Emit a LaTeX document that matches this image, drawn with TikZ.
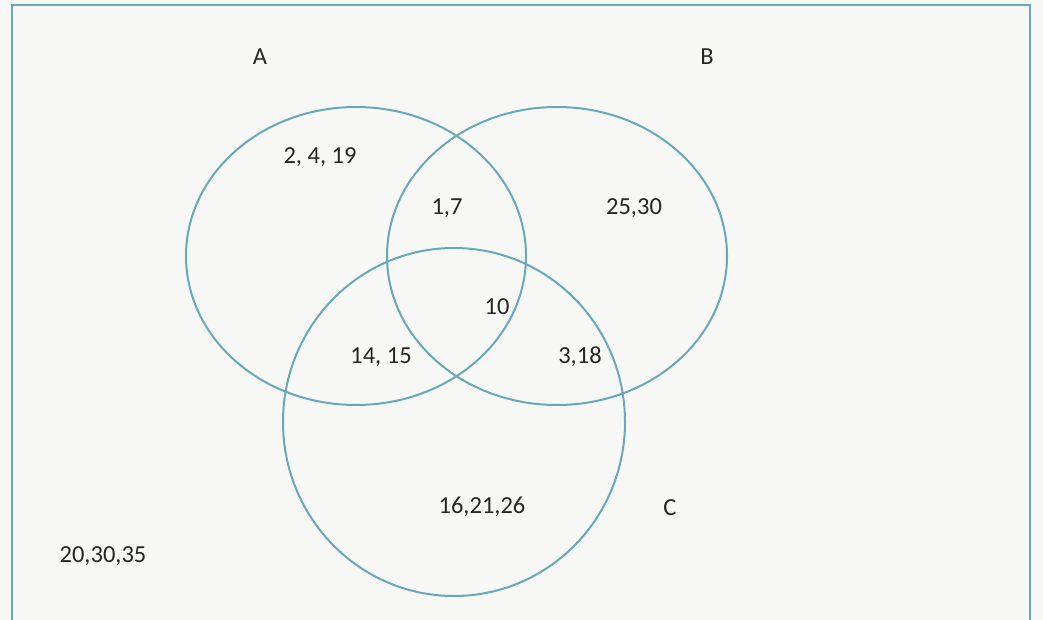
\documentclass[tikz,border=0pt]{standalone}
\usepackage{fontspec}
\setmainfont{Carlito}
\definecolor{venncol}{RGB}{104,168,186}
\definecolor{paper}{RGB}{247,247,245}
\tikzset{
	setline/.style={venncol, line width=2pt},
	lbl/.style={font=\fontsize{24.5}{24.5}\selectfont, text=black!85, inner sep=1pt}
}
\begin{document}
\begin{tikzpicture}[x=1pt, y=-1pt]
				\useasboundingbox[fill=paper] (0,0) rectangle (1043,620);
				% universal set frame
				\draw[venncol, line width=1.6pt] (12,622) -- (12,5) -- (1030,5) -- (1030,622);
				% the three sets
				\draw[setline] (356,256) ellipse [x radius=170, y radius=149];
				\draw[setline] (557,256) ellipse [x radius=170, y radius=149];
				\draw[setline] (454,422) ellipse [x radius=171, y radius=174];
				\node[lbl] (setA) at (260,57) {A};
				\node[lbl] (setB) at (707,57) {B};
				\node[lbl] (setC) at (670,508) {C};
				\node[lbl] (onlyA) at (320,157) {2, 4, 19};
				\node[lbl] (AB) at (447,208) {1,7};
				\node[lbl] (onlyB) at (634,208) {25,30};
				\node[lbl] (ABC) at (497,307) {10};
				\node[lbl] (AC) at (381,357) {14, 15};
				\node[lbl] (BC) at (580,357) {3,18};
				\node[lbl] (onlyC) at (482,507) {16,21,26};
				\node[lbl] (outside) at (103,556) {20,30,35};
			\end{tikzpicture}
\end{document}
